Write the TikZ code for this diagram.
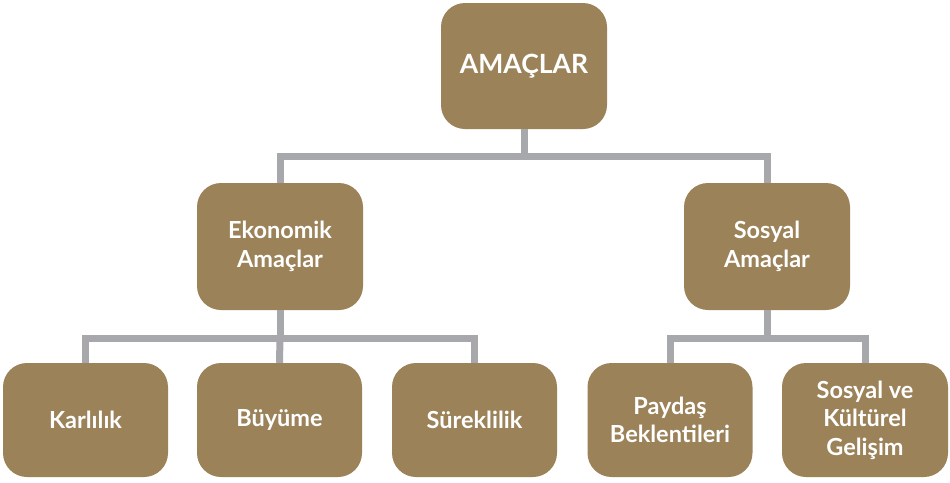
\documentclass[tikz,border=0pt]{standalone}
\usepackage{fontspec}
\setmainfont{Lato}[UprightFont=* Bold]
\begin{document}
\begin{tikzpicture}[x=1pt,y=-1pt,
  box/.style={fill=boxc, rounded corners=24pt, inner sep=0pt, align=center, text=white, font=\fontsize{23.5}{28.5}\selectfont},
  conn/.style={draw=linec, line width=7pt}]
\definecolor{boxc}{HTML}{9B8259}
\definecolor{linec}{HTML}{A7A8AC}
\useasboundingbox (0,0) rectangle (950,482);
\node[box, minimum width=166pt, minimum height=126pt, font=\fontsize{26.5}{30}\selectfont] (root) at (524,66) {AMAÇLAR};
\node[box, minimum width=166pt, minimum height=127pt] (eko) at (280,246.5) {Ekonomik\\Amaçlar};
\node[box, minimum width=166pt, minimum height=127pt] (sos) at (767,246.5) {Sosyal\\Amaçlar};
\node[box, minimum width=165pt, minimum height=114pt] (kar) at (85.5,420) {Karlılık};
\node[box, minimum width=165pt, minimum height=114pt] (buy) at (279.5,420) {Büyüme};
\node[box, minimum width=165pt, minimum height=114pt] (sur) at (474.5,420) {Süreklilik};
\node[box, minimum width=165pt, minimum height=114pt] (pay) at (670,420) {Paydaş\\Beklentileri};
\node[box, minimum width=166pt, minimum height=114pt] (kul) at (865,420) {Sosyal ve\\Kültürel\\Gelişim};
\coordinate (j1) at (524,156);
\coordinate (j2) at (280,338);
\coordinate (j3) at (767,338);
\begin{scope}[on background layer/.try]
\draw[conn] (root.south) -- (j1);
\draw[conn] (eko.north) |- (j1) -| (sos.north);
\draw[conn] (eko.south) -- (j2);
\draw[conn] (kar.north) |- (j2) -| (sur.north);
\draw[conn] (j2) -- (buy.north);
\draw[conn] (sos.south) -- (j3);
\draw[conn] (pay.north) |- (j3) -| (kul.north);
\end{scope}
\end{tikzpicture}
\end{document}
